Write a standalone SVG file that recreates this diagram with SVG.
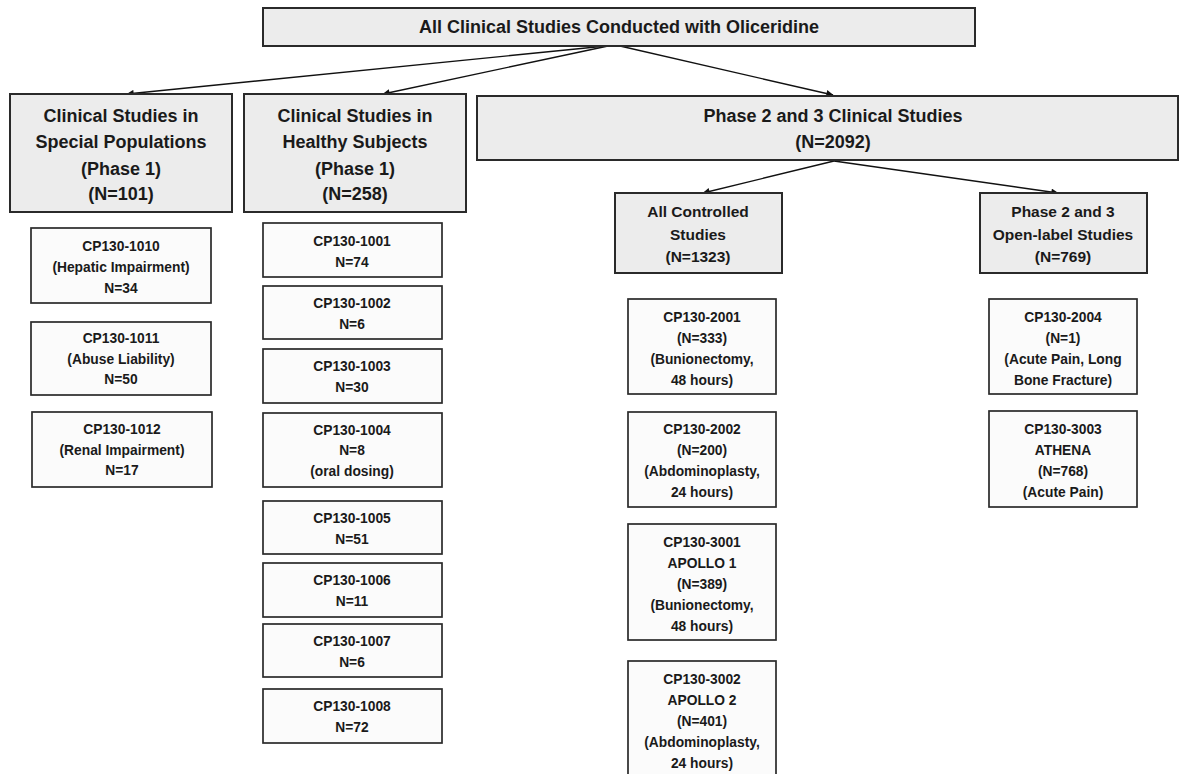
<svg xmlns="http://www.w3.org/2000/svg" width="1181" height="774" viewBox="0 0 1181 774">
<style>
text{font-family:"Liberation Sans",Arial,sans-serif;font-weight:bold;fill:#1a1a1a;text-anchor:middle}
.h{font-size:18px}
.m{font-size:15.5px}
.s{font-size:13.8px}
.hb{fill:#ececec;stroke:#2a2a2a;stroke-width:2}
.sb{fill:#fbfbfb;stroke:#2a2a2a;stroke-width:1.7}
.c{stroke:#111;stroke-width:1.4;fill:none;marker-end:url(#ah)}
</style>
<defs>
<marker id="ah" viewBox="0 0 10 10" refX="9.5" refY="5" markerWidth="8" markerHeight="7" markerUnits="userSpaceOnUse" orient="auto">
<path d="M0,0 L10,5 L0,10 z" fill="#111"/>
</marker>
</defs>
<rect width="1181" height="774" fill="#fff"/>
<g id="connectors">
<line class="c" x1="606" y1="46" x2="127" y2="94"/>
<line class="c" x1="608" y1="46" x2="383" y2="94"/>
<line class="c" x1="620" y1="46" x2="833" y2="95"/>
<line class="c" x1="834" y1="161" x2="703" y2="193"/>
<line class="c" x1="834" y1="161" x2="1058" y2="193"/>
</g>
<g id="n-all">
<rect class="hb" x="263" y="8" width="712" height="38"/>
<text class="h" x="619" y="33">All Clinical Studies Conducted with Oliceridine</text>
</g>
<g id="n-special">
<rect class="hb" x="10" y="94" width="222" height="118"/>
<text class="h" x="121" y="122">Clinical Studies in</text>
<text class="h" x="121" y="148">Special Populations</text>
<text class="h" x="121" y="175">(Phase 1)</text>
<text class="h" x="121" y="200">(N=101)</text>
</g>
<g id="n-healthy">
<rect class="hb" x="244" y="94" width="222" height="118"/>
<text class="h" x="355" y="122">Clinical Studies in</text>
<text class="h" x="355" y="148">Healthy Subjects</text>
<text class="h" x="355" y="175">(Phase 1)</text>
<text class="h" x="355" y="200">(N=258)</text>
</g>
<g id="n-phase23">
<rect class="hb" x="477" y="96" width="701" height="64"/>
<text class="h" x="833" y="122">Phase 2 and 3 Clinical Studies</text>
<text class="h" x="833" y="148">(N=2092)</text>
</g>
<g id="n-controlled">
<rect class="hb" x="615" y="193" width="167" height="80"/>
<text class="m" x="698" y="217">All Controlled</text>
<text class="m" x="698" y="240">Studies</text>
<text class="m" x="698" y="262">(N=1323)</text>
</g>
<g id="n-openlabel">
<rect class="hb" x="980" y="193" width="167" height="80"/>
<text class="m" x="1063" y="217">Phase 2 and 3</text>
<text class="m" x="1063" y="240">Open-label Studies</text>
<text class="m" x="1063" y="262">(N=769)</text>
</g>
<g id="n-1010">
<rect class="sb" x="31" y="228" width="180" height="75"/>
<text class="s" x="121" y="251">CP130-1010</text>
<text class="s" x="121" y="272">(Hepatic Impairment)</text>
<text class="s" x="121" y="293">N=34</text>
</g>
<g id="n-1011">
<rect class="sb" x="31" y="322" width="180" height="73"/>
<text class="s" x="121" y="343">CP130-1011</text>
<text class="s" x="121" y="364">(Abuse Liability)</text>
<text class="s" x="121" y="384">N=50</text>
</g>
<g id="n-1012">
<rect class="sb" x="32" y="412" width="180" height="75"/>
<text class="s" x="122" y="434">CP130-1012</text>
<text class="s" x="122" y="455">(Renal Impairment)</text>
<text class="s" x="122" y="475">N=17</text>
</g>
<g id="n-1001">
<rect class="sb" x="263" y="223" width="179" height="54"/>
<text class="s" x="352" y="246">CP130-1001</text>
<text class="s" x="352" y="267">N=74</text>
</g>
<g id="n-1002">
<rect class="sb" x="263" y="286" width="179" height="53"/>
<text class="s" x="352" y="308">CP130-1002</text>
<text class="s" x="352" y="329">N=6</text>
</g>
<g id="n-1003">
<rect class="sb" x="263" y="349" width="179" height="54"/>
<text class="s" x="352" y="371">CP130-1003</text>
<text class="s" x="352" y="392">N=30</text>
</g>
<g id="n-1004">
<rect class="sb" x="263" y="413" width="179" height="74"/>
<text class="s" x="352" y="435">CP130-1004</text>
<text class="s" x="352" y="455">N=8</text>
<text class="s" x="352" y="476">(oral dosing)</text>
</g>
<g id="n-1005">
<rect class="sb" x="263" y="501" width="179" height="53"/>
<text class="s" x="352" y="523">CP130-1005</text>
<text class="s" x="352" y="544">N=51</text>
</g>
<g id="n-1006">
<rect class="sb" x="263" y="563" width="179" height="54"/>
<text class="s" x="352" y="585">CP130-1006</text>
<text class="s" x="352" y="606">N=11</text>
</g>
<g id="n-1007">
<rect class="sb" x="263" y="624" width="179" height="53"/>
<text class="s" x="352" y="646">CP130-1007</text>
<text class="s" x="352" y="667">N=6</text>
</g>
<g id="n-1008">
<rect class="sb" x="263" y="689" width="179" height="54"/>
<text class="s" x="352" y="711">CP130-1008</text>
<text class="s" x="352" y="732">N=72</text>
</g>
<g id="n-2001">
<rect class="sb" x="628" y="299" width="148" height="95"/>
<text class="s" x="702" y="322">CP130-2001</text>
<text class="s" x="702" y="343">(N=333)</text>
<text class="s" x="702" y="364">(Bunionectomy,</text>
<text class="s" x="702" y="385">48 hours)</text>
</g>
<g id="n-2002">
<rect class="sb" x="628" y="412" width="148" height="95"/>
<text class="s" x="702" y="434">CP130-2002</text>
<text class="s" x="702" y="455">(N=200)</text>
<text class="s" x="702" y="476">(Abdominoplasty,</text>
<text class="s" x="702" y="497">24 hours)</text>
</g>
<g id="n-3001">
<rect class="sb" x="628" y="524" width="148" height="116"/>
<text class="s" x="702" y="547">CP130-3001</text>
<text class="s" x="702" y="568">APOLLO 1</text>
<text class="s" x="702" y="589">(N=389)</text>
<text class="s" x="702" y="610">(Bunionectomy,</text>
<text class="s" x="702" y="631">48 hours)</text>
</g>
<g id="n-3002">
<rect class="sb" x="628" y="661" width="148" height="130"/>
<text class="s" x="702" y="684">CP130-3002</text>
<text class="s" x="702" y="705">APOLLO 2</text>
<text class="s" x="702" y="726">(N=401)</text>
<text class="s" x="702" y="747">(Abdominoplasty,</text>
<text class="s" x="702" y="768">24 hours)</text>
</g>
<g id="n-2004">
<rect class="sb" x="989" y="299" width="148" height="95"/>
<text class="s" x="1063" y="322">CP130-2004</text>
<text class="s" x="1063" y="343">(N=1)</text>
<text class="s" x="1063" y="364">(Acute Pain, Long</text>
<text class="s" x="1063" y="385">Bone Fracture)</text>
</g>
<g id="n-3003">
<rect class="sb" x="989" y="411" width="148" height="96"/>
<text class="s" x="1063" y="434">CP130-3003</text>
<text class="s" x="1063" y="455">ATHENA</text>
<text class="s" x="1063" y="476">(N=768)</text>
<text class="s" x="1063" y="497">(Acute Pain)</text>
</g>
</svg>
